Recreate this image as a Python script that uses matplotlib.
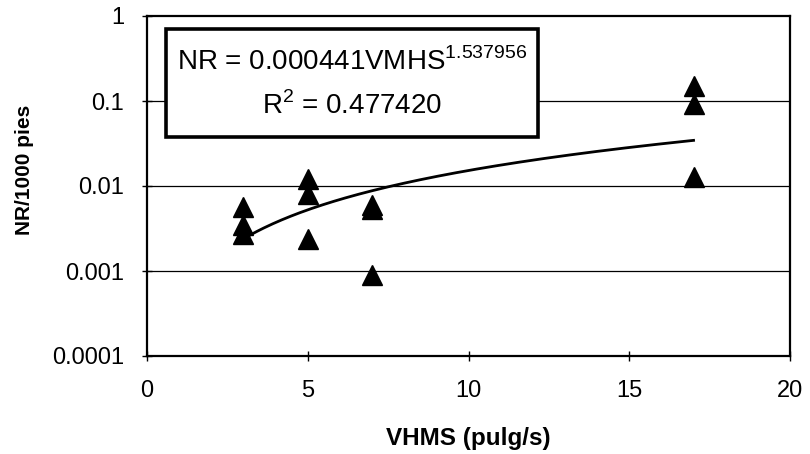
import numpy as np
import matplotlib
matplotlib.use("Agg")
import matplotlib.pyplot as plt

plt.rcParams['font.family'] = ['Liberation Sans', 'DejaVu Sans']

# Measured flow velocity (pulg/s) and NR per 1000 ft
vhms = [3, 3, 3, 5, 5, 5, 7, 7, 7, 17, 17, 17]
nr = [0.0057, 0.0035, 0.0027,
      0.0121, 0.0080, 0.0024,
      0.0060, 0.0054, 0.00090,
      0.150, 0.092, 0.0126]

# Power-law fit NR = a * VHMS^b
fit_a = 0.000441
fit_b = 1.537956
fit_r2 = 0.477420

xticks = [0, 5, 10, 15, 20]
yticks = [0.0001, 0.001, 0.01, 0.1, 1]
ytick_labels = ["0.0001", "0.001", "0.01", "0.1", "1"]

W, H = 810, 454
fig = plt.figure(figsize=(W / 100, H / 100), dpi=100)
ax_l, ax_r, ax_t, ax_b = 147, 790, 16, 356
ax = fig.add_axes([ax_l / W, 1 - ax_b / H, (ax_r - ax_l) / W, (ax_b - ax_t) / H])

ax.set_yscale('log')
ax.set_xlim(0, 20)
ax.set_ylim(0.0001, 1)

# horizontal grid lines at the decades
for v in yticks[1:-1]:
    ax.axhline(v, color='black', lw=0.9, zorder=1)

ax.plot(vhms, nr, linestyle='none', marker='^', ms=14,
        color='black', zorder=3)

xs = np.linspace(min(vhms), max(vhms), 200)
ax.plot(xs, fit_a * xs ** fit_b, color='black', lw=2.0, zorder=2)

ax.set_xticks(xticks)
ax.set_xticklabels([str(t) for t in xticks])
ax.set_yticks(yticks)
ax.set_yticklabels(ytick_labels)
ax.yaxis.set_minor_locator(matplotlib.ticker.NullLocator())
ax.tick_params(axis='both', which='major', direction='inout', length=7,
               width=1.0, labelsize=17, color='black')
ax.tick_params(axis='x', pad=14)
ax.tick_params(axis='y', pad=13)

for s in ax.spines.values():
    s.set_linewidth(1.6)
    s.set_color('black')

ax.set_xlabel("VHMS (pulg/s)", fontsize=17.5, fontweight='bold', va='center')
ax.xaxis.set_label_coords(0.5, (ax_b - 438) / (ax_b - ax_t))
ax.set_ylabel("NR/1000 pies", fontsize=15, fontweight='bold', va='center')
ax.yaxis.set_label_coords((24 - ax_l) / (ax_r - ax_l), (ax_b - 170) / (ax_b - ax_t))

# Equation box
bx0, by0, bx1, by1 = 166, 29, 538, 137
fig.patches.append(plt.Rectangle((bx0 / W, 1 - by1 / H), (bx1 - bx0) / W, (by1 - by0) / H,
                                 transform=fig.transFigure, facecolor='white',
                                 edgecolor='black', lw=2.6, zorder=5))
cx = (bx0 + bx1) / 2 / W
fig.text(cx, 1 - 62 / H,
         r"NR = 0.000441VMHS$^{\mathregular{%.6f}}$" % fit_b,
         ha='center', va='center', fontsize=20, zorder=6)
fig.text(cx, 1 - 106 / H,
         r"R$^{\mathregular{2}}$ = %.6f" % fit_r2,
         ha='center', va='center', fontsize=20, zorder=6)

fig.savefig("out.png", dpi=100)
